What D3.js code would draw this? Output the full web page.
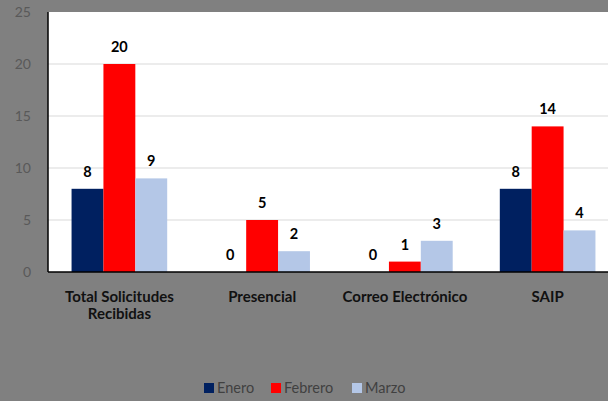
<!DOCTYPE html>
<html>
<head>
<meta charset="utf-8">
<style>
  html, body { margin: 0; padding: 0; background: #808080; }
  svg { display: block; font-family: Lato, "Open Sans", sans-serif; }
</style>
</head>
<body>
<svg width="608" height="401"></svg>
<script src="https://cdn.jsdelivr.net/npm/d3@7/dist/d3.min.js"></script>
<script>
var categories = [["Total Solicitudes", "Recibidas"], ["Presencial"], ["Correo Electrónico"], ["SAIP"]];
var seriesNames = ["Enero", "Febrero", "Marzo"];
var enero = [8, 0, 0, 8];
var febrero = [20, 5, 1, 14];
var marzo = [9, 2, 3, 4];
var yTicks = [0, 5, 10, 15, 20, 25];
var colors = ["#002060", "#FF0000", "#B4C7E7"];

var series = [enero, febrero, marzo];

var svg = d3.select("svg");
var plotL = 48, plotT = 12, plotB = 272, plotR = 619;

svg.append("rect").attr("width", 608).attr("height", 401).attr("fill", "#808080");
svg.append("rect").attr("x", plotL).attr("y", plotT)
    .attr("width", plotR - plotL).attr("height", plotB - plotT).attr("fill", "#fff");

var x0 = d3.scaleBand().domain(d3.range(categories.length)).range([plotL, plotR]).paddingInner(0.33).paddingOuter(0.165);
var x1 = d3.scaleBand().domain(d3.range(seriesNames.length)).range([0, x0.bandwidth()]);
var y = d3.scaleLinear().domain([0, 25]).range([plotB, plotT]);

// gridlines
svg.append("g").selectAll("line").data(yTicks.slice(1, 5)).join("line")
    .attr("x1", plotL).attr("x2", plotR)
    .attr("y1", d => y(d)).attr("y2", d => y(d))
    .attr("stroke", "#d9d9d9").attr("stroke-width", 1);

// y tick labels
svg.append("g").selectAll("text").data(yTicks).join("text")
    .attr("x", 31).attr("y", d => y(d)).attr("dy", "0.35em")
    .attr("text-anchor", "end").attr("font-size", 14).attr("fill", "#595959")
    .text(d => d);

// bars
var groups = svg.append("g").selectAll("g").data(categories).join("g")
    .attr("transform", (d, i) => "translate(" + x0(i) + ",0)");

groups.each(function(c, ci) {
  var g = d3.select(this);
  series.forEach(function(s, si) {
    g.append("rect")
      .attr("x", x1(si)).attr("y", y(s[ci]))
      .attr("width", x1.bandwidth()).attr("height", plotB - y(s[ci]))
      .attr("fill", colors[si]);
    g.append("text")
      .attr("x", x1(si) + x1.bandwidth() / 2).attr("y", y(s[ci]) - 12)
      .attr("text-anchor", "middle").attr("font-size", 14.5).attr("font-weight", "bold")
      .attr("fill", "#000").text(s[ci]);
  });
});

// axes lines
svg.append("line").attr("x1", plotL).attr("x2", plotL).attr("y1", plotT).attr("y2", plotB)
    .attr("stroke", "#000").attr("stroke-width", 1.5);
svg.append("line").attr("x1", plotL).attr("x2", plotR).attr("y1", plotB).attr("y2", plotB)
    .attr("stroke", "#000").attr("stroke-width", 1.5);

// category labels
svg.append("g").selectAll("text").data(categories).join("text")
    .attr("x", (d, i) => x0(i) + x0.bandwidth() / 2).attr("y", 302)
    .attr("text-anchor", "middle").attr("font-size", 15).attr("font-weight", "bold")
    .attr("fill", "#111")
    .each(function(d) {
      var t = d3.select(this);
      d.forEach(function(line, li) {
        t.append("tspan").attr("x", t.attr("x")).attr("dy", li ? 17 : 0).text(line);
      });
    });

// legend
var legendX = [204, 271, 352];
var legend = svg.append("g").selectAll("g").data(seriesNames).join("g")
    .attr("transform", (d, i) => "translate(" + legendX[i] + ",383)");
legend.append("rect").attr("width", 10).attr("height", 10).attr("fill", (d, i) => colors[i]);
legend.append("text").attr("x", 13).attr("y", 5).attr("dy", "0.35em")
    .attr("font-size", 14.5).attr("fill", "#404040").text(d => d);
</script>
</body>
</html>
